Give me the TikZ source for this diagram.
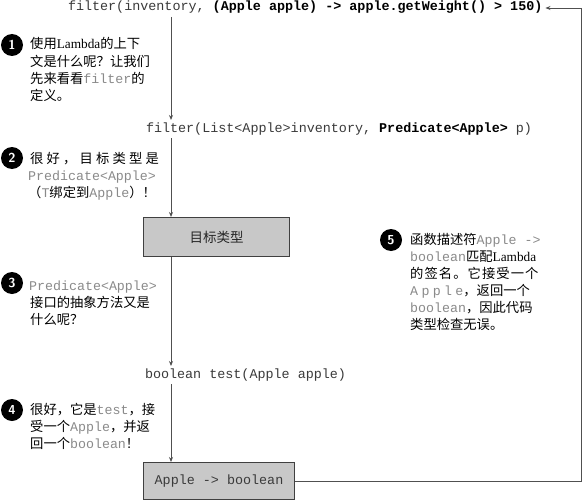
\documentclass[tikz,border=0pt]{standalone}
\usepackage{fontspec}
\setmainfont{Liberation Serif}
\setmonofont{Liberation Mono}
\newfontfamily\cjk{Noto Sans CJK SC}
\usetikzlibrary{arrows.meta}
\definecolor{codegray}{HTML}{8A8A8A}
\definecolor{maincode}{HTML}{3A3A3A}
\definecolor{boxgray}{HTML}{C8C8C8}
\definecolor{linegray}{HTML}{505050}
\newcommand\zh[1]{{\cjk #1}}
\newcommand\cd[1]{{\ttfamily\color{codegray}#1}}
\begin{document}
\begin{tikzpicture}[x=1pt,y=-1pt,
  code/.style={anchor=west, inner sep=0pt, outer sep=3pt, text=maincode,
    font=\ttfamily\fontsize{13.4}{16}\selectfont, text height=9pt, text depth=3pt},
  note/.style={anchor=west, inner sep=0pt,
    font=\fontsize{13.3}{17}\selectfont, text height=10pt, text depth=3pt},
  num/.style={circle, fill=black, text=white, minimum size=22pt, inner sep=0pt,
    font=\sffamily\bfseries\fontsize{13}{13}\selectfont},
  box/.style={draw=black!75, fill=boxgray, line width=1pt, anchor=north west, inner sep=0pt},
  link/.style={draw=linegray, line width=0.9pt, -{Stealth[length=5pt,width=4pt]}}
]
\useasboundingbox[fill=white] (0,0) rectangle (583,500);
\coordinate (vx) at (171,0);
\coordinate (rx) at (581,0);

% main column
\node[code] (c1) at (65,8) {filter(inventory, \textbf{\color{black}(Apple apple) -> apple.getWeight() > 150)}};
\node[code] (c2) at (143,129) {filter(List<Apple>inventory, \textbf{\color{black}Predicate<Apple>} p)};
\node[box, minimum width=146pt, minimum height=39pt, font=\cjk\fontsize{13.5}{14}\selectfont, text=black!85] (b1) at (143,217) {目标类型};
\node[code] (c3) at (142,375) {boolean test(Apple apple)};
\node[box, minimum width=151pt, minimum height=37pt, font=\ttfamily\fontsize{13.4}{14}\selectfont, text=maincode] (b2) at (143,462) {Apple -> boolean};

\draw[link] (c1.south -| vx) -- (c2.north -| vx);
\draw[link] (c2.south -| vx) -- (b1.north -| vx);
\draw[link] (b1.south -| vx) -- (c3.north -| vx);
\draw[link] (c3.south -| vx) -- (b2.north -| vx);
\draw[link] (b2.east) -- (b2.east -| rx) -- (c1.east -| rx) -- (c1.east);

% note 1
\node[num] (n1) at (12,45) {1};
\node[note] (t11) at (30,45) {\zh{使用}Lambda\zh{的上下}};
\node[note] (t12) at (30,63) {\zh{文是什么呢？让我们}};
\node[note] (t13) at (30,80) {\zh{先来看看}\cd{filter}\zh{的}};
\node[note] (t14) at (30,97) {\zh{定义。}};

% note 2
\node[num] (n2) at (12,158) {2};
\node[note] (t21) at (30,160) {{\cjk\addfontfeature{LetterSpace=24}很好，目标类型是}};
\node[note] (t22) at (28,177) {\cd{Predicate<Apple>}};
\node[note] (t23) at (28,194) {\zh{（}\cd{T}\zh{绑定到}\cd{Apple}\zh{）！}};

% note 3
\node[num] (n3) at (12,283) {3};
\node[note] (t31) at (29,287) {\cd{Predicate<Apple>}};
\node[note] (t32) at (30,304) {\zh{接口的抽象方法又是}};
\node[note] (t33) at (30,321) {\zh{什么呢？}};

% note 4
\node[num] (n4) at (12,410) {4};
\node[note] (t41) at (30,411) {\zh{很好，它是}\cd{test}\zh{，接}};
\node[note] (t42) at (30,428) {\zh{受一个}\cd{Apple}\zh{，并返}};
\node[note] (t43) at (30,445) {\zh{回一个}\cd{boolean}\zh{！}};

% note 5
\node[num] (n5) at (391,240) {5};
\node[note] (t51) at (410,241) {\zh{函数描述符}\cd{Apple ->}};
\node[note] (t52) at (410,258) {\cd{boolean}\zh{匹配}Lambda};
\node[note] (t53) at (410,275) {{\cjk\addfontfeature{LetterSpace=8}的签名。它接受一个}};
\node[note] (t54) at (410,292) {{\ttfamily\color{codegray}\addfontfeature{LetterSpace=25}Apple}\zh{，返回一个}};
\node[note] (t55) at (410,309) {\cd{boolean}\zh{，因此代码}};
\node[note] (t56) at (410,326) {\zh{类型检查无误。}};
\end{tikzpicture}
\end{document}
